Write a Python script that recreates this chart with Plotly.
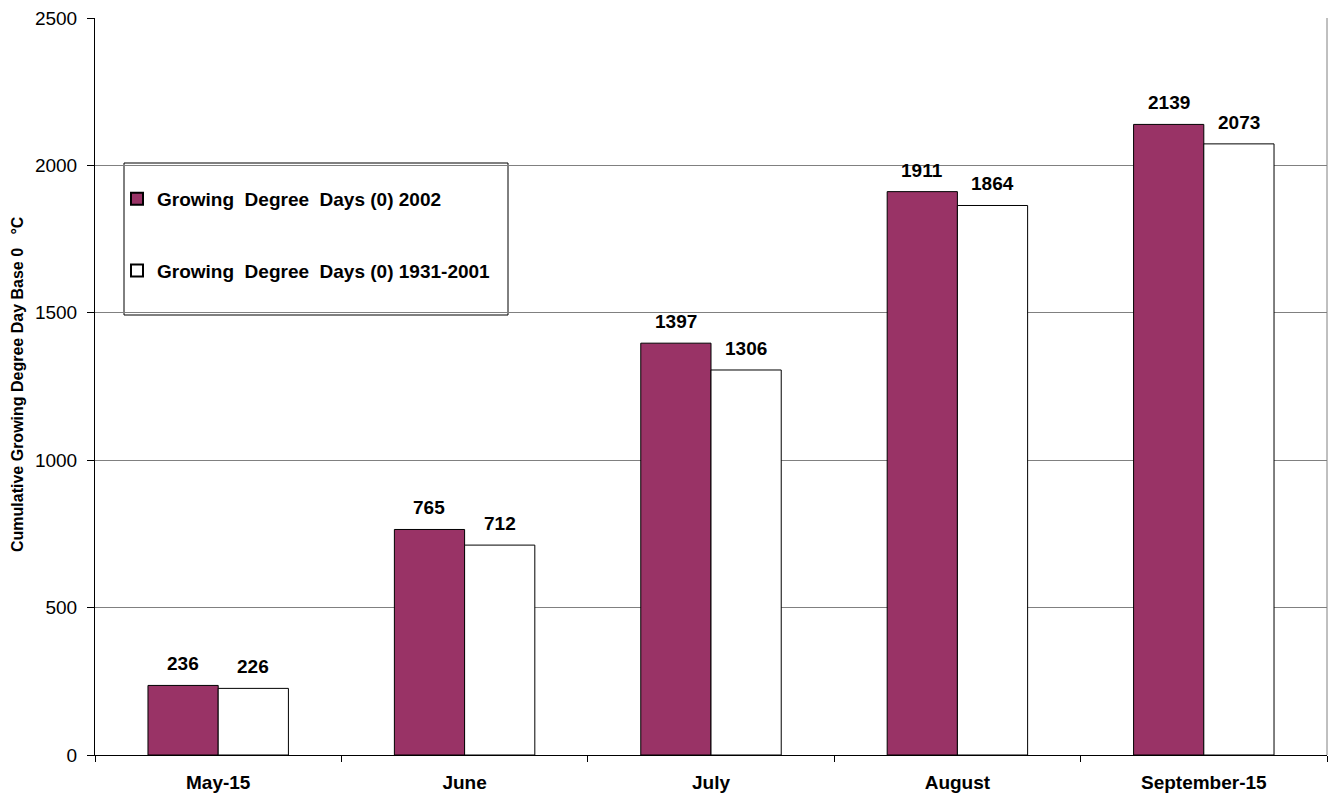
import plotly.graph_objects as go

# Cumulative growing degree days (base 0 °C) by period
periods = ["May-15", "June", "July", "August", "September-15"]
gdd_2002 = [236, 765, 1397, 1911, 2139]
gdd_normal = [226, 712, 1306, 1864, 2073]

series_names = [
    "Growing  Degree  Days (0) 2002",
    "Growing  Degree  Days (0) 1931-2001",
]
y_title = "Cumulative Growing Degree Day Base 0   °C"

FONT = "Liberation Sans, Arial, sans-serif"
FS = 19

L, R, T, B = 95, 6, 18, 42
W, H = 1333, 797
pw = W - L - R
ph = H - T - B

BARGAP = 0.43
half_bar = pw / len(periods) * (1 - BARGAP) / 4  # half of one bar's width, px


def px_x(p):
    return (p - L) / pw


def px_y(p):
    return (H - B - p) / ph


fig = go.Figure()
fig.add_trace(go.Bar(
    x=periods, y=gdd_2002, name=series_names[0], legendgroup="a",
    marker=dict(color="#993366", line=dict(color="#000000", width=1)),
))
fig.add_trace(go.Bar(
    x=periods, y=gdd_normal, name=series_names[1], legendgroup="b",
    marker=dict(color="#FFFFFF", line=dict(color="#000000", width=1)),
))

# value labels above each bar
annotations = []
for series, shift in ((gdd_2002, -half_bar), (gdd_normal, half_bar)):
    for cat, val in zip(periods, series):
        annotations.append(dict(
            x=cat, y=val, xref="x", yref="y", text=str(val),
            showarrow=False, xshift=shift, yshift=9, yanchor="bottom",
            font=dict(family=FONT, size=FS, color="#000000", weight="bold"),
        ))

# vertical axis title
annotations.append(dict(
    x=px_x(18), y=px_y(384), xref="paper", yref="paper", text=y_title,
    showarrow=False, textangle=-90, xanchor="center", yanchor="middle",
    font=dict(family=FONT, size=16, color="#000000", weight="bold"),
))

fig.update_layout(
    width=W, height=H,
    margin=dict(l=L, r=R, t=T, b=B, pad=0, autoexpand=False),
    paper_bgcolor="#FFFFFF", plot_bgcolor="#FFFFFF",
    font=dict(family=FONT, color="#000000"),
    barmode="group", bargap=BARGAP, bargroupgap=0,
    showlegend=True,
    legend=dict(
        x=px_x(117), y=px_y(180), xanchor="left", yanchor="top",
        bgcolor="rgba(0,0,0,0)", borderwidth=0,
        traceorder="grouped", tracegroupgap=44,
        font=dict(family=FONT, size=FS, color="#000000", weight="bold"),
        itemsizing="constant",
    ),
    annotations=annotations,
    shapes=[
        # plot-area frame on the right
        dict(type="line", xref="paper", yref="paper", x0=1, x1=1, y0=0, y1=1,
             line=dict(color="#808080", width=1)),
        # legend box
        dict(type="rect", xref="paper", yref="paper",
             x0=px_x(124), x1=px_x(508), y0=px_y(315), y1=px_y(163),
             line=dict(color="#000000", width=1), fillcolor="#FFFFFF",
             layer="below"),
    ],
    xaxis=dict(
        showline=True, linecolor="#000000", linewidth=1,
        ticks="outside", ticklen=6, tickcolor="#000000", tickson="boundaries",
        tickfont=dict(family=FONT, size=FS, color="#000000", weight="bold"),
        ticklabelstandoff=10,
        showgrid=False, zeroline=False, automargin=False,
    ),
    yaxis=dict(
        range=[0, 2500], dtick=500,
        showline=True, linecolor="#000000", linewidth=1,
        ticks="outside", ticklen=7, tickcolor="#000000",
        tickfont=dict(family=FONT, size=FS, color="#000000"),
        ticklabelstandoff=6,
        showgrid=True, gridcolor="#808080", gridwidth=1,
        zeroline=False, automargin=False,
    ),
)

fig.write_html("out.html")
